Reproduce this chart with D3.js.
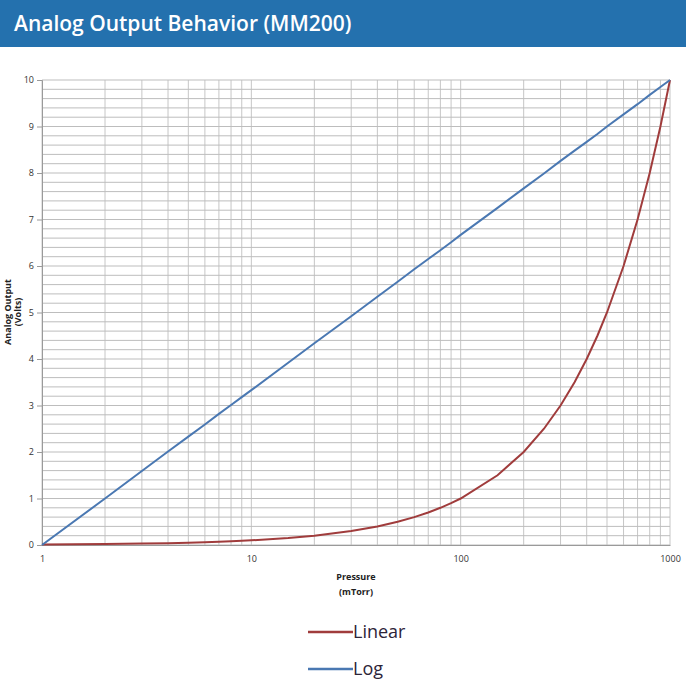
<!DOCTYPE html>
<html>
<head>
<meta charset="utf-8">
<script src="https://cdn.jsdelivr.net/npm/d3@7"></script>
<style>
  body { margin: 0; background: #fff; }
  svg text { font-family: "Open Sans", sans-serif; }
</style>
</head>
<body>
<svg id="chart" width="686" height="698"></svg>
<script>
// pressure samples (mTorr)
const pressures = [1,2,3,4,5,6,7,8,9,10,15,20,30,40,50,60,70,80,90,100,150,200,250,300,350,400,450,500,600,700,800,900,1000];
// linear output (volts)
const linearVolts = [0.01,0.02,0.03,0.04,0.05,0.06,0.07,0.08,0.09,0.1,0.15,0.2,0.3,0.4,0.5,0.6,0.7,0.8,0.9,1,1.5,2,2.5,3,3.5,4,4.5,5,6,7,8,9,10];
// log output (volts)
const logVolts = [0,1.0,1.59,2.01,2.33,2.59,2.82,3.01,3.18,3.33,3.92,4.34,4.92,5.34,5.66,5.93,6.15,6.34,6.51,6.67,7.25,7.67,7.99,8.26,8.48,8.67,8.84,9.0,9.26,9.48,9.68,9.85,10];
const xTicks = [1, 10, 100, 1000];
const yTicks = [0,1,2,3,4,5,6,7,8,9,10];

const svg = d3.select("#chart");

// title bar
svg.append("rect").attr("x", 0).attr("y", 0).attr("width", 686).attr("height", 47).attr("fill", "#2471ae");
svg.append("text").attr("x", 14).attr("y", 31)
    .attr("fill", "#fff").style("font-size", "21px").style("font-weight", 600)
    .text("Analog Output Behavior (MM200)");

const x = d3.scaleLog().domain([1, 1000]).range([42, 670]);
const y = d3.scaleLinear().domain([0, 10]).range([545, 80]);

const g = svg.append("g");

// grid
const vLines = [];
[1, 10, 100].forEach(d => { for (let i = 1; i <= 9; i++) vLines.push(d * i); });
vLines.push(1000);
g.selectAll("line.vg").data(vLines).join("line")
    .attr("x1", d => x(d)).attr("x2", d => x(d))
    .attr("y1", y(0)).attr("y2", y(10))
    .attr("stroke", "#c6c6c6").attr("stroke-width", 1);

g.selectAll("line.hg").data(d3.range(0, 10.01, 0.2)).join("line")
    .attr("x1", x(1)).attr("x2", x(1000))
    .attr("y1", d => y(d)).attr("y2", d => y(d))
    .attr("stroke", "#bdbdbd").attr("stroke-width", 1);

// axes
const yAxis = g.append("g").attr("transform", `translate(${x(1)},0)`)
    .call(d3.axisLeft(y).tickValues(yTicks).tickSize(5).tickFormat(d3.format("d")));
yAxis.select(".domain").attr("stroke", "#9a9a9a");
yAxis.selectAll(".tick line").attr("stroke", "#9a9a9a");
yAxis.selectAll("text").style("font-size", "9px").attr("fill", "#333").attr("x", -8);

const xAxis = g.append("g").attr("transform", `translate(0,${y(0)})`)
    .call(d3.axisBottom(x).tickValues(xTicks).tickSize(0).tickFormat(d3.format("d")));
xAxis.select(".domain").attr("stroke", "#9a9a9a");
xAxis.selectAll("text").style("font-size", "9px").attr("fill", "#333").attr("y", 11);

// series
const line = d3.line().x(d => x(d[0])).y(d => y(d[1]));
g.append("path").datum(pressures.map((p, i) => [p, linearVolts[i]]))
    .attr("d", line).attr("fill", "none").attr("stroke", "#a03c3c").attr("stroke-width", 2);
g.append("path").datum(pressures.map((p, i) => [p, logVolts[i]]))
    .attr("d", line).attr("fill", "none").attr("stroke", "#4a78b2").attr("stroke-width", 2);

// axis titles
const yt = svg.append("text").attr("transform", "translate(11,312) rotate(-90)")
    .attr("text-anchor", "middle").style("font-size", "9px").style("font-weight", 700).attr("fill", "#222");
yt.append("tspan").attr("x", 0).attr("dy", 0).text("Analog Output");
yt.append("tspan").attr("x", 0).attr("dy", 10).text("(Volts)");

const xt = svg.append("text").attr("text-anchor", "middle").style("font-size", "9px")
    .style("font-weight", 700).attr("fill", "#222");
xt.append("tspan").attr("x", 356).attr("y", 580).text("Pressure");
xt.append("tspan").attr("x", 356).attr("y", 595).text("(mTorr)");

// legend
const legend = [{ name: "Linear", color: "#a03c3c" }, { name: "Log", color: "#4a78b2" }];
const lg = svg.selectAll("g.legend").data(legend).join("g")
    .attr("transform", (d, i) => `translate(308,${632 + i * 37})`);
lg.append("line").attr("x1", 0).attr("x2", 45).attr("stroke", d => d.color).attr("stroke-width", 2.5);
lg.append("text").attr("x", 45).attr("y", 6).style("font-size", "18px").attr("fill", "#2d2438").text(d => d.name);
</script>
</body>
</html>
